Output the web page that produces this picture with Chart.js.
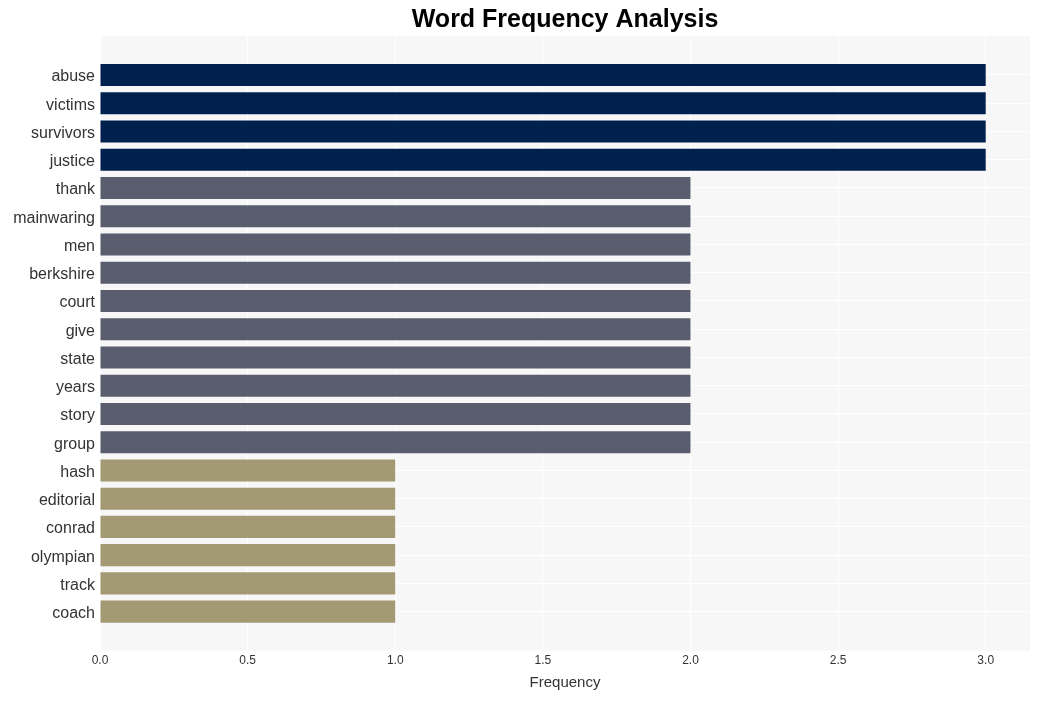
<!DOCTYPE html>
<html>
<head>
<meta charset="utf-8">
<title>Word Frequency Analysis</title>
<script src="https://cdn.jsdelivr.net/npm/chart.js@4.4.0/dist/chart.umd.min.js"></script>
<style>
  html, body { margin: 0; padding: 0; background: #fff; }
  #wrap { width: 1040px; height: 701px; }
</style>
</head>
<body>
<div id="wrap"><canvas id="chart" width="1040" height="701"></canvas></div>
<script>
  // ─── DATA ─────────────────────────────────────────────
  const WORDS = [
    'abuse', 'victims', 'survivors', 'justice',
    'thank', 'mainwaring', 'men', 'berkshire', 'court', 'give',
    'state', 'years', 'story', 'group',
    'hash', 'editorial', 'conrad', 'olympian', 'track', 'coach'
  ];
  const FREQ = [
    3, 3, 3, 3,
    2, 2, 2, 2, 2, 2,
    2, 2, 2, 2,
    1, 1, 1, 1, 1, 1
  ];
  const X_TICKS = [0, 0.5, 1, 1.5, 2, 2.5, 3];

  // ─── STYLE ────────────────────────────────────────────
  const BAR_COLOR = { 3: '#00204e', 2: '#595d6e', 1: '#a39a73' };
  const FONT = "'Liberation Sans', Arial, sans-serif";

  const plotBg = {
    id: 'plotBg',
    beforeDraw(chart) {
      const { ctx, chartArea: a } = chart;
      ctx.save();
      ctx.fillStyle = '#f7f7f7';
      ctx.fillRect(a.left, a.top, a.right - a.left, a.bottom - a.top);
      ctx.restore();
    }
  };

  new Chart(document.getElementById('chart').getContext('2d'), {
    type: 'bar',
    data: {
      datasets: [{
        data: FREQ.map((v, i) => ({ x: v, y: i })),
        backgroundColor: FREQ.map(v => BAR_COLOR[v]),
        borderWidth: 0,
        barPercentage: 0.78,
        categoryPercentage: 1
      }]
    },
    options: {
      indexAxis: 'y',
      responsive: false,
      animation: false,
      layout: { padding: { left: 0, right: 10, top: 0, bottom: 5 } },
      plugins: {
        legend: { display: false },
        tooltip: { enabled: false },
        title: {
          display: true,
          text: 'Word Frequency Analysis',
          fullSize: false,
          color: '#000',
          font: { family: FONT, size: 25, weight: 'bold' },
          padding: { top: 5, bottom: 1 }
        }
      },
      scales: {
        x: {
          type: 'linear',
          min: 0,
          max: 3.15,
          afterBuildTicks: s => { s.ticks = X_TICKS.map(v => ({ value: v })); },
          border: { display: false },
          grid: { color: '#ffffff', lineWidth: 1, drawTicks: false },
          ticks: {
            padding: 3,
            color: '#333',
            font: { family: FONT, size: 12 },
            callback: v => v.toFixed(1)
          },
          title: {
            display: true,
            text: 'Frequency',
            color: '#333',
            font: { family: FONT, size: 15 },
            padding: { top: 3, bottom: 4 }
          }
        },
        y: {
          type: 'linear',
          reverse: true,
          offset: false,
          min: -1.38,
          max: WORDS.length - 1 + 1.38,
          afterBuildTicks: s => { s.ticks = WORDS.map((w, i) => ({ value: i })); },
          afterFit: s => { s.width = 100; },
          border: { display: false },
          grid: { color: '#ffffff', lineWidth: 1, drawTicks: false, offset: false },
          ticks: {
            autoSkip: false,
            padding: 5,
            labelOffset: 2,
            color: '#333',
            font: { family: FONT, size: 16 },
            callback: v => WORDS[v]
          }
        }
      }
    },
    plugins: [plotBg]
  });
</script>
</body>
</html>
